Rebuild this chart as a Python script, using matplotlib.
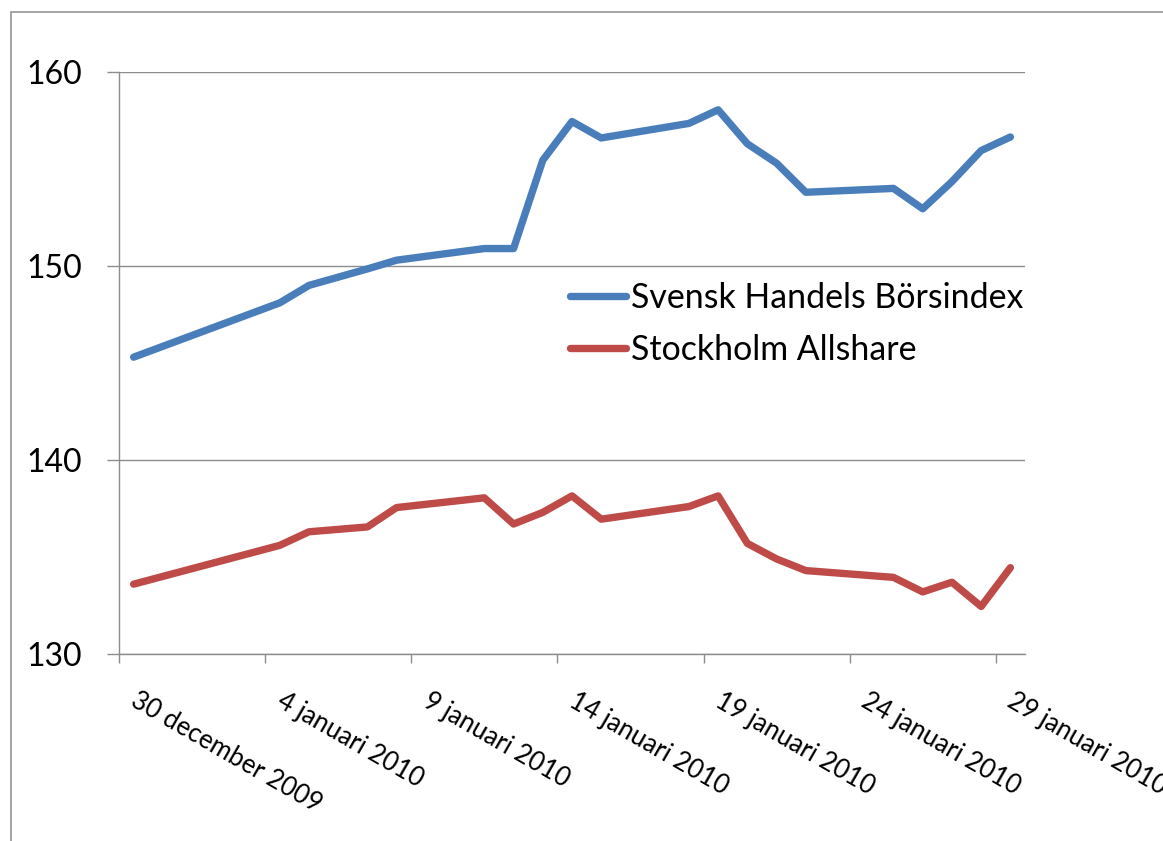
"""
Svensk Handels Börsindex vs Stockholm Allshare, dec 2009 - jan 2010
"""
import matplotlib
matplotlib.use('Agg')
import matplotlib.pyplot as plt
import matplotlib.dates as mdates
import numpy as np
from matplotlib.patches import Rectangle
from matplotlib.transforms import ScaledTranslation

# --- data ---
dates = ['2009-12-30', '2010-01-04', '2010-01-05', '2010-01-07', '2010-01-08',
         '2010-01-11', '2010-01-12', '2010-01-13', '2010-01-14', '2010-01-15',
         '2010-01-18', '2010-01-19', '2010-01-20', '2010-01-21', '2010-01-22',
         '2010-01-25', '2010-01-26', '2010-01-27', '2010-01-28', '2010-01-29']
shb_index = [145.3, 148.1, 149.0, 149.85, 150.3,
             150.9, 150.9, 155.45, 157.45, 156.6,
             157.35, 158.05, 156.3, 155.3, 153.8,
             154.0, 152.95, 154.35, 155.95, 156.65]
allshare = [133.6, 135.6, 136.3, 136.55, 137.55,
            138.05, 136.7, 137.3, 138.15, 136.95,
            137.6, 138.15, 135.7, 134.9, 134.3,
            133.95, 133.2, 133.7, 132.45, 134.45]
series_names = ['Svensk Handels Börsindex', 'Stockholm Allshare']
tick_dates = ['2009-12-30', '2010-01-04', '2010-01-09', '2010-01-14',
              '2010-01-19', '2010-01-24', '2010-01-29']
tick_labels = ['30 december 2009', '4 januari 2010', '9 januari 2010',
               '14 januari 2010', '19 januari 2010', '24 januari 2010',
               '29 januari 2010']
y_ticks = [130, 140, 150, 160]

GRAY = '#8c8c8c'
BLUE = '#4a7ebb'
RED = '#be4b48'

plt.rcParams['font.family'] = ['Lato', 'DejaVu Sans']

fig = plt.figure(figsize=(11.63, 8.41), dpi=100)

# outer chart-area border (cut off at right and bottom in the original)
fig.patches.append(Rectangle((11 / 1163, -0.1), 1.2, 1.1 - 12 / 841,
                             transform=fig.transFigure, fill=False,
                             edgecolor=GRAY, linewidth=1.1, clip_on=False))

ax = fig.add_axes([119 / 1163, 1 - 654 / 841, 906 / 1163, 582 / 841])

# points sit in the middle of each day slot, like an Excel date axis
x = mdates.date2num(np.array(dates, dtype='datetime64[D]')) + 0.5

ax.plot(x, shb_index, color=BLUE, linewidth=5.3, label=series_names[0],
        solid_capstyle='round', solid_joinstyle='round')
ax.plot(x, allshare, color=RED, linewidth=5.3, label=series_names[1],
        solid_capstyle='round', solid_joinstyle='round')

start = mdates.date2num(np.datetime64('2009-12-30'))
ax.set_xlim(start, start + 31)
ax.set_ylim(130, 160)

ax.set_yticks(y_ticks)
tick_x = mdates.date2num(np.array(tick_dates, dtype='datetime64[D]'))
ax.set_xticks(tick_x)
ax.set_xticklabels([])

# rotated date labels, hung off to the right of each tick
label_tf = ax.get_xaxis_transform() + ScaledTranslation(0.20, -0.34,
                                                        fig.dpi_scale_trans)
for xt, lbl in zip(tick_x, tick_labels):
    ax.text(xt, 0, lbl, transform=label_tf, rotation=-30, ha='left',
            va='top', rotation_mode='anchor', fontsize=18.5, clip_on=False)

ax.yaxis.grid(True, color=GRAY, linewidth=1.0)
ax.set_axisbelow(True)
for side in ['top', 'right']:
    ax.spines[side].set_visible(False)
for side in ['left', 'bottom']:
    ax.spines[side].set_color(GRAY)
    ax.spines[side].set_linewidth(1.0)

ax.tick_params(axis='y', length=8.5, width=1.0, color=GRAY, pad=18,
               labelsize=23)
ax.tick_params(axis='x', length=6.5, width=1.0, color=GRAY)

ax.legend(loc='upper left', bbox_to_anchor=(570 / 1163, 1 - 282 / 841),
          bbox_transform=fig.transFigure, frameon=False, fontsize=24.4,
          handlelength=1.65, handletextpad=0.15, labelspacing=0.6,
          borderpad=0, borderaxespad=0)

fig.savefig('out.png', dpi=100)
